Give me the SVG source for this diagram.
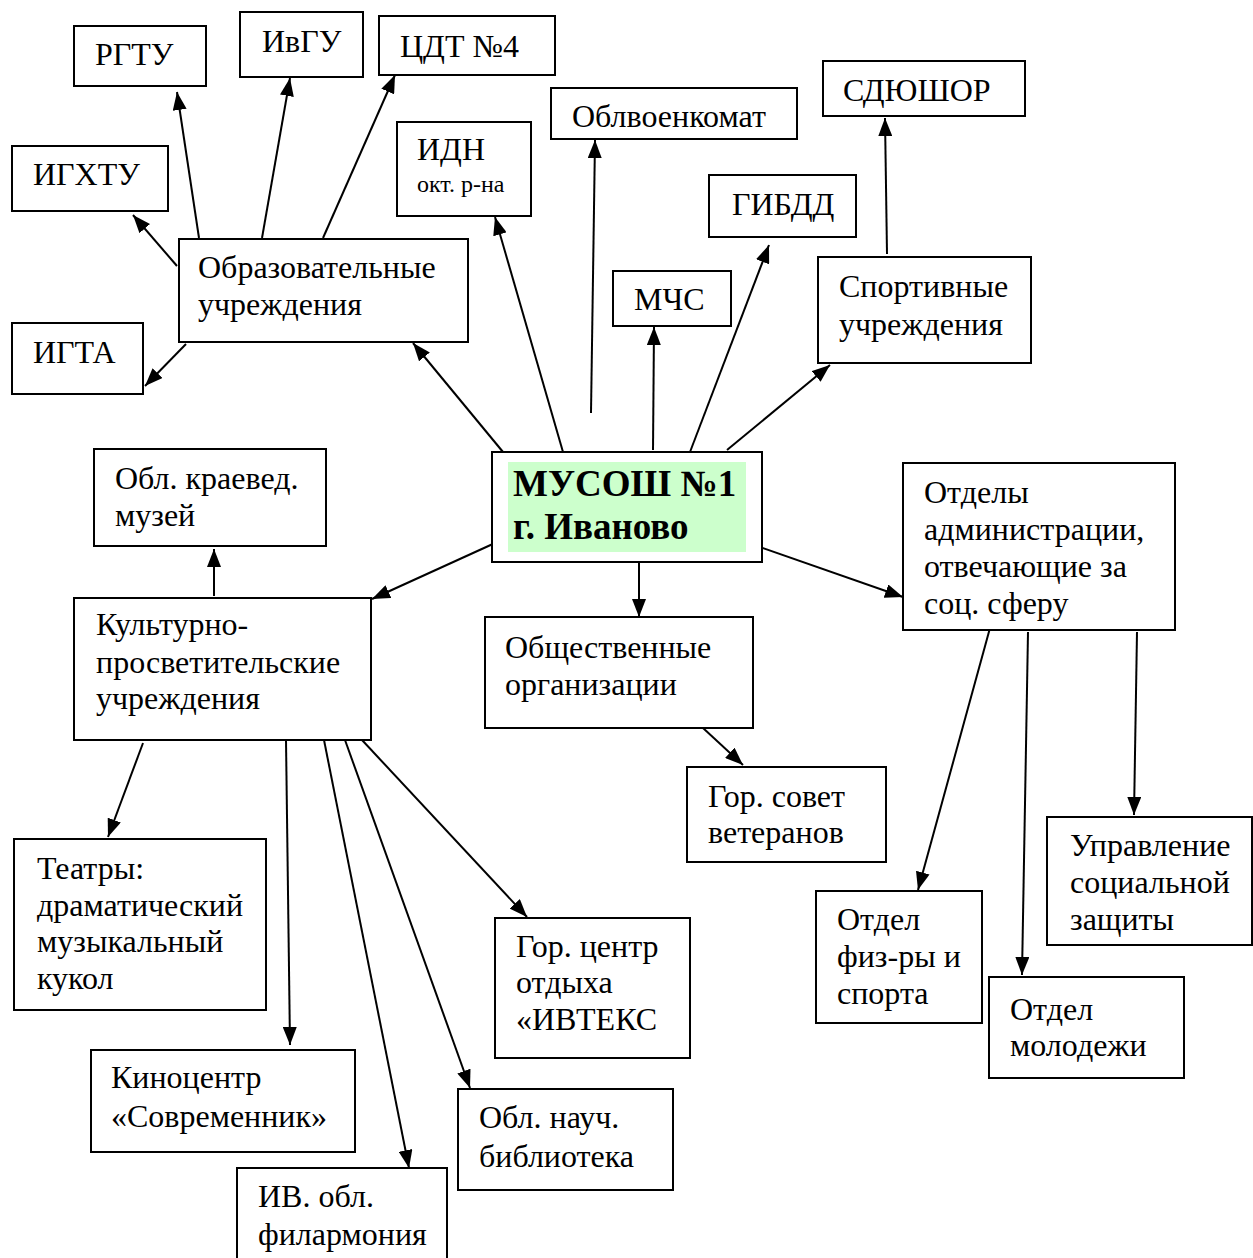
<svg xmlns="http://www.w3.org/2000/svg" width="1253" height="1258" viewBox="0 0 1253 1258">
<style>
.box{fill:#fff;stroke:#000;stroke-width:2}
.t{font-family:"Liberation Serif","Times New Roman",serif;font-size:32px;fill:#000}
.s{font-size:24px}
.b{font-family:"Liberation Serif","Times New Roman",serif;font-size:37px;font-weight:bold;fill:#000}
.c{stroke:#000;stroke-width:2;fill:none;marker-end:url(#ah)}
</style>
<defs>
<marker id="ah" markerUnits="userSpaceOnUse" markerWidth="18" markerHeight="14" refX="18" refY="7" orient="auto">
<path d="M0,0 L18,7 L0,14 z" fill="#000"/>
</marker>
</defs>
<rect width="1253" height="1258" fill="#fff"/>
<g id="connectors">
<line class="c" x1="503" y1="452" x2="413" y2="343"/>
<line class="c" x1="563" y1="452" x2="495" y2="217"/>
<line class="c" x1="591" y1="413" x2="595" y2="140"/>
<line class="c" x1="653" y1="450" x2="654" y2="327"/>
<line class="c" x1="690" y1="452" x2="769" y2="245"/>
<line class="c" x1="727" y1="450" x2="830" y2="365"/>
<line class="c" x1="495" y1="543" x2="372" y2="599"/>
<line class="c" x1="639" y1="562" x2="639" y2="617"/>
<line class="c" x1="757" y1="546" x2="903" y2="597"/>
<line class="c" x1="199" y1="238" x2="177" y2="92"/>
<line class="c" x1="262" y1="238" x2="290" y2="78"/>
<line class="c" x1="323" y1="238" x2="395" y2="75"/>
<line class="c" x1="177" y1="266" x2="133" y2="215"/>
<line class="c" x1="186" y1="344" x2="145" y2="386"/>
<line class="c" x1="887" y1="254" x2="885" y2="118"/>
<line class="c" x1="214" y1="596" x2="214" y2="549"/>
<line class="c" x1="143" y1="743" x2="108" y2="837"/>
<line class="c" x1="286" y1="740" x2="290" y2="1045"/>
<line class="c" x1="324" y1="740" x2="409" y2="1168"/>
<line class="c" x1="345" y1="740" x2="470" y2="1088"/>
<line class="c" x1="362" y1="740" x2="527" y2="917"/>
<line class="c" x1="703" y1="728" x2="743" y2="765"/>
<line class="c" x1="990" y1="628" x2="918" y2="890"/>
<line class="c" x1="1028" y1="632" x2="1022" y2="975"/>
<line class="c" x1="1137" y1="632" x2="1134" y2="815"/>
</g>
<g id="rgtu"><rect class="box" x="74" y="26" width="132" height="60"/><text class="t" x="95" y="65">РГТУ</text></g>
<g id="ivgu"><rect class="box" x="240" y="12" width="123" height="65"/><text class="t" x="262" y="52">ИвГУ</text></g>
<g id="cdt"><rect class="box" x="379" y="16" width="176" height="59"/><text class="t" x="400" y="57">ЦДТ №4</text></g>
<g id="igxtu"><rect class="box" x="12" y="146" width="156" height="65"/><text class="t" x="33" y="185">ИГХТУ</text></g>
<g id="idn"><rect class="box" x="397" y="122" width="134" height="94"/><text class="t" x="417" y="160">ИДН</text><text class="t s" x="417" y="192">окт. р-на</text></g>
<g id="oblvoenkomat"><rect class="box" x="551" y="88" width="246" height="51"/><text class="t" x="572" y="127">Облвоенкомат</text></g>
<g id="sdyushor"><rect class="box" x="823" y="61" width="202" height="55"/><text class="t" x="843" y="101">СДЮШОР</text></g>
<g id="gibdd"><rect class="box" x="709" y="175" width="147" height="62"/><text class="t" x="732" y="215">ГИБДД</text></g>
<g id="mchs"><rect class="box" x="613" y="271" width="118" height="55"/><text class="t" x="634" y="310">МЧС</text></g>
<g id="sport"><rect class="box" x="818" y="257" width="213" height="106"/><text class="t" x="839" y="297">Спортивные</text><text class="t" x="839" y="335">учреждения</text></g>
<g id="obraz"><rect class="box" x="179" y="239" width="289" height="103"/><text class="t" x="198" y="278">Образовательные</text><text class="t" x="198" y="315">учреждения</text></g>
<g id="igta"><rect class="box" x="12" y="323" width="131" height="71"/><text class="t" x="33" y="363">ИГТА</text></g>
<g id="center"><rect class="box" x="492" y="452" width="270" height="110"/><rect x="508" y="462" width="238" height="90" fill="#ccffcc"/><text class="b" x="513" y="496">МУСОШ №1</text><text class="b" x="513" y="539">г. Иваново</text></g>
<g id="muzey"><rect class="box" x="94" y="449" width="232" height="97"/><text class="t" x="115" y="489">Обл. краевед.</text><text class="t" x="115" y="526">музей</text></g>
<g id="kultura"><rect class="box" x="74" y="598" width="297" height="142"/><text class="t" x="96" y="635">Культурно-</text><text class="t" x="96" y="673">просветительские</text><text class="t" x="96" y="709">учреждения</text></g>
<g id="obshch"><rect class="box" x="485" y="617" width="268" height="111"/><text class="t" x="505" y="658">Общественные</text><text class="t" x="505" y="695">организации</text></g>
<g id="otdely"><rect class="box" x="903" y="463" width="272" height="167"/><text class="t" x="924" y="503">Отделы</text><text class="t" x="924" y="540">администрации,</text><text class="t" x="924" y="577">отвечающие за</text><text class="t" x="924" y="614">соц. сферу</text></g>
<g id="sovet"><rect class="box" x="687" y="767" width="199" height="95"/><text class="t" x="708" y="807">Гор. совет</text><text class="t" x="708" y="843">ветеранов</text></g>
<g id="teatry"><rect class="box" x="14" y="839" width="252" height="171"/><text class="t" x="37" y="879">Театры:</text><text class="t" x="37" y="916">драматический</text><text class="t" x="37" y="952">музыкальный</text><text class="t" x="37" y="989">кукол</text></g>
<g id="ivteks"><rect class="box" x="495" y="918" width="195" height="140"/><text class="t" x="516" y="957">Гор. центр</text><text class="t" x="516" y="993">отдыха</text><text class="t" x="516" y="1030">«ИВТЕКС</text></g>
<g id="soczashchita"><rect class="box" x="1047" y="817" width="205" height="128"/><text class="t" x="1070" y="856">Управление</text><text class="t" x="1070" y="893">социальной</text><text class="t" x="1070" y="930">защиты</text></g>
<g id="fizra"><rect class="box" x="816" y="891" width="166" height="132"/><text class="t" x="837" y="930">Отдел</text><text class="t" x="837" y="967">физ-ры и</text><text class="t" x="837" y="1004">спорта</text></g>
<g id="molodezh"><rect class="box" x="989" y="977" width="195" height="101"/><text class="t" x="1010" y="1020">Отдел</text><text class="t" x="1010" y="1056">молодежи</text></g>
<g id="kinocentr"><rect class="box" x="91" y="1050" width="264" height="102"/><text class="t" x="111" y="1088">Киноцентр</text><text class="t" x="111" y="1127">«Современник»</text></g>
<g id="biblioteka"><rect class="box" x="458" y="1089" width="215" height="101"/><text class="t" x="479" y="1128">Обл. науч.</text><text class="t" x="479" y="1167">библиотека</text></g>
<g id="filarmoniya"><rect class="box" x="237" y="1168" width="210" height="100"/><text class="t" x="258" y="1207">ИВ. обл.</text><text class="t" x="258" y="1245">филармония</text></g>
</svg>
